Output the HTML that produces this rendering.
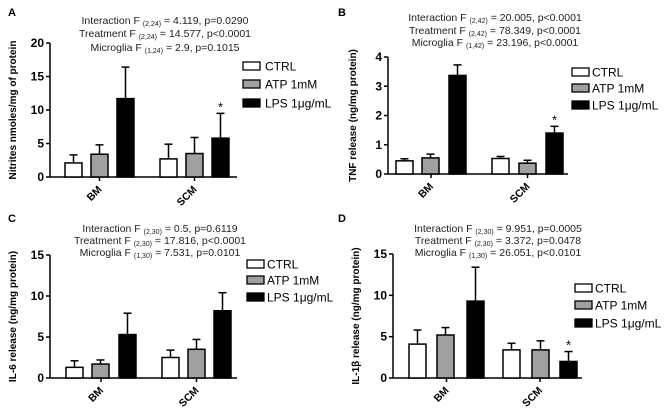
<!DOCTYPE html>
<html><head><meta charset="utf-8"><style>
html,body{margin:0;padding:0;background:#fff;}
svg{display:block;font-family:"Liberation Sans",sans-serif;}
</style></head><body>
<svg id="chart" width="669" height="413" viewBox="0 0 669 413" xmlns="http://www.w3.org/2000/svg"></svg>
<script>
// Data
const groups = ["BM", "SCM"];
const seriesNames = ["CTRL", "ATP 1mM", "LPS 1\u03bcg/mL"];
const seriesFill = ["#ffffff", "#a0a0a0", "#000000"];
const aMeans = [[2.1, 3.4, 11.7], [2.7, 3.5, 5.8]];
const aErr = [[3.3, 4.8, 16.4], [4.9, 5.9, 9.5]];
const aTicks = [0, 5, 10, 15, 20];
const bMeans = [[0.45, 0.55, 3.37], [0.53, 0.37, 1.4]];
const bErr = [[0.52, 0.68, 3.73], [0.6, 0.47, 1.63]];
const bTicks = [0, 1, 2, 3, 4];
const cMeans = [[1.3, 1.7, 5.3], [2.5, 3.5, 8.2]];
const cErr = [[2.1, 2.2, 7.9], [3.4, 4.7, 10.4]];
const cTicks = [0, 5, 10, 15];
const dMeans = [[4.1, 5.2, 9.3], [3.4, 3.4, 2.0]];
const dErr = [[5.8, 6.1, 13.4], [4.2, 4.5, 3.2]];
const dTicks = [0, 5, 10, 15];

const NS = "http://www.w3.org/2000/svg";
const svg = document.getElementById("chart");
function mk(tag, attrs, parent, text) {
  const e = document.createElementNS(NS, tag);
  for (const k in attrs) e.setAttribute(k, attrs[k]);
  if (text !== undefined) e.textContent = text;
  (parent || svg).appendChild(e);
  return e;
}

const panels = [
  {id:"a", letter:"A", lx:8, ly:16, means:aMeans, err:aErr, ticks:aTicks, ax:50, y0:177, y1:43, xEnd:237, barStarts:[[65,91,117],[160,186,212]], bw:17, star:[[false,false,false],[false,false,true]],
   leg:{x:243, ys:[66,84,103], tx:265}, stats:{cx:165, ys:[24,37,51], lines:[["Interaction F ","(2,24)"," = 4.119, p=0.0290"],["Treatment F ","(2,24)"," = 14.577, p<0.0001"],["Microglia F ","(1,24)"," = 2.9, p=0.1015"]]},
   title:"Nitrites nmoles/mg of protein", tx:16},
  {id:"b", letter:"B", lx:338, ly:16, means:bMeans, err:bErr, ticks:bTicks, ax:388, y0:174, y1:57, xEnd:568, barStarts:[[396,422,449],[492,519,546]], bw:17, star:[[false,false,false],[false,false,true]],
   leg:{x:572, ys:[72,88,105], tx:592}, stats:{cx:495, ys:[21,34,46], lines:[["Interaction F ","(2,42)"," = 20.005, p<0.0001"],["Treatment F ","(2,42)"," = 78.349, p<0.0001"],["Microglia F ","(1,42)"," = 23.196, p<0.0001"]]},
   title:"TNF release (ng/mg protein)", tx:356},
  {id:"c", letter:"C", lx:8, ly:222, means:cMeans, err:cErr, ticks:cTicks, ax:50, y0:378, y1:255, xEnd:237, barStarts:[[66,92,119],[162,188,214]], bw:17, star:[[false,false,false],[false,false,false]],
   leg:{x:247, ys:[264,280,297], tx:267}, stats:{cx:160, ys:[232,244,256], lines:[["Interaction F ","(2,30)"," = 0.5, p=0.6119"],["Treatment F ","(2,30)"," = 17.816, p<0.0001"],["Microglia F ","(1,30)"," = 7.531, p=0.0101"]]},
   title:"IL-6 release (ng/mg protein)", tx:16},
  {id:"d", letter:"D", lx:338, ly:222, means:dMeans, err:dErr, ticks:dTicks, ax:393, y0:378, y1:254, xEnd:582, barStarts:[[409,437,467],[503,532,560]], bw:17, star:[[false,false,false],[false,false,true]],
   leg:{x:575, ys:[288,305,323], tx:595}, stats:{cx:498, ys:[232,244,256], lines:[["Interaction F ","(2,30)"," = 9.951, p=0.0005"],["Treatment F ","(2,30)"," = 3.372, p=0.0478"],["Microglia  F ","(1,30)"," = 26.051, p<0.0101"]]},
   title:"IL-1\u03b2 release (ng/mg protein)", tx:359}
];

panels.forEach(p => {
  const g = mk("g", {});
  
  
  const maxT = p.ticks[p.ticks.length - 1];
  const y = v => p.y0 - (v / maxT) * (p.y0 - p.y1);

  const L = mk("text", {x:p.lx, y:p.ly, "font-size":11, "font-weight":"bold"}, g, p.letter);
  
  

  p.stats.lines.forEach((ln, i) => {
    const t = mk("text", {x:p.stats.cx, y:p.stats.ys[i], "font-size":10.5, "text-anchor":"middle", fill:"#222"}, g);
    
    
    mk("tspan", {}, t, ln[0]);
    mk("tspan", {"font-size":7, dy:2}, t, ln[1]);
    mk("tspan", {dy:-2}, t, ln[2]);
  });

  const ya = mk("line", {x1:p.ax, x2:p.ax, y1:p.y1, y2:p.y0, stroke:"#000", "stroke-width":1.5}, g);
  
  
  p.ticks.forEach(tv => {
    mk("line", {x1:p.ax - 4, x2:p.ax, y1:y(tv), y2:y(tv), stroke:"#000", "stroke-width":1.5}, g);
    const tl = mk("text", {x:p.ax - 6, y:y(tv) + 4, "font-size":12, "font-weight":"bold", "text-anchor":"end"}, g, tv);
    
    
  });
  const yt = mk("text", {x:p.tx, y:(p.y0 + p.y1) / 2, "font-size":10, "font-weight":"bold", "text-anchor":"middle", transform:`rotate(-90 ${p.tx} ${(p.y0 + p.y1) / 2})`}, g, p.title);
  
  

  const xa = mk("line", {x1:p.ax, x2:p.xEnd, y1:p.y0, y2:p.y0, stroke:"#000", "stroke-width":1.5}, g);
  
  

  groups.forEach((gn, gi) => {
    const bs = p.barStarts[gi];
    const cx = (bs[0] + bs[2] + p.bw) / 2;
    mk("line", {x1:cx, x2:cx, y1:p.y0, y2:p.y0 + 4, stroke:"#000", "stroke-width":1.5}, g);
    const xl = mk("text", {x:cx + 3, y:p.y0 + 13, "font-size":10.5, "font-weight":"bold", "text-anchor":"end", transform:`rotate(-45 ${cx + 3} ${p.y0 + 13})`}, g, gn);
    
    
    seriesNames.forEach((sn, si) => {
      const x0 = bs[si];
      const v = p.means[gi][si], e = p.err[gi][si];
      const mid = x0 + p.bw / 2;
      const el = mk("line", {x1:mid, x2:mid, y1:y(v), y2:y(e), stroke:"#000", "stroke-width":1.5}, g);
      
      
      mk("line", {x1:mid - 4, x2:mid + 4, y1:y(e), y2:y(e), stroke:"#000", "stroke-width":1.5}, g);
      const r = mk("rect", {x:x0, y:y(v), width:p.bw, height:p.y0 - y(v), fill:seriesFill[si], stroke:"#000", "stroke-width":1.5}, g);
      
      
      if (p.star[gi][si]) {
        const s = mk("text", {x:mid, y:y(e) - 2, "font-size":13, "text-anchor":"middle"}, g, "*");
        
        
      }
    });
  });

  seriesNames.forEach((sn, si) => {
    const ly = p.leg.ys[si];
    const lr = mk("rect", {x:p.leg.x, y:ly - 4, width:17, height:8, fill:seriesFill[si], stroke:"#000", "stroke-width":1.3}, g);
    
    
    const lt = mk("text", {x:p.leg.tx, y:ly + 4.5, "font-size":12}, g, sn);
    
    
  });
});
</script>
</body></html>
